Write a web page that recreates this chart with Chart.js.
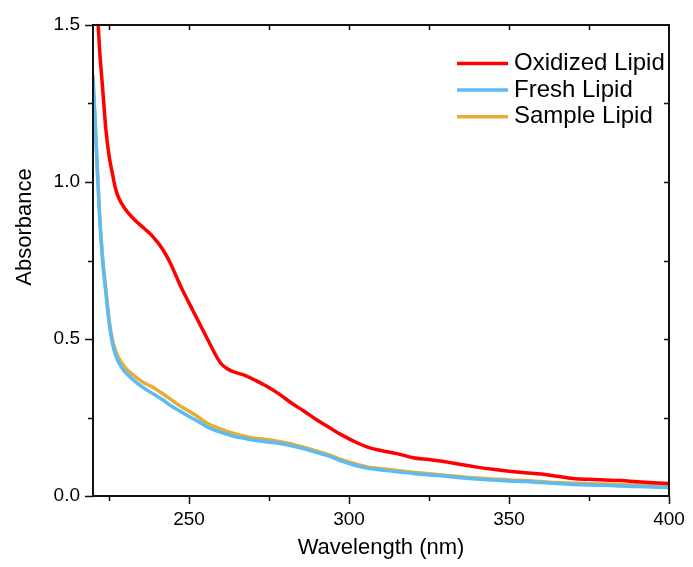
<!DOCTYPE html>
<html>
<head>
<meta charset="utf-8">
<script src="https://cdn.jsdelivr.net/npm/chart.js@4/dist/chart.umd.min.js"></script>
<style>
  html, body { margin: 0; padding: 0; background: #fff; }
  #wrap { width: 693px; height: 567px; }
</style>
</head>
<body>
<div id="wrap"><canvas id="c" width="693" height="567"></canvas></div>
<script>
const wavelength = [220,221,222,223,224,225,226,227,228,230,232,234,236,238,240,242,244,246,248,250,252,254,256,258,260,262,264,266,268,270,274,278,282,286,290,294,298,302,306,310,315,320,325,330,335,340,345,350,355,360,365,370,375,380,385,390,395,400];
const oxidized = [1.80,1.62,1.43,1.30,1.17,1.085,1.03,0.98,0.95,0.915,0.89,0.87,0.852,0.834,0.81,0.782,0.745,0.70,0.655,0.615,0.575,0.535,0.495,0.455,0.422,0.405,0.395,0.389,0.382,0.372,0.351,0.326,0.296,0.27,0.242,0.217,0.193,0.172,0.155,0.145,0.135,0.122,0.116,0.109,0.10,0.092,0.085,0.079,0.074,0.07,0.063,0.056,0.053,0.051,0.049,0.045,0.042,0.04];
const fresh = [1.34,1.12,0.90,0.75,0.65,0.555,0.49,0.45,0.425,0.395,0.375,0.358,0.343,0.33,0.318,0.305,0.29,0.277,0.265,0.253,0.242,0.23,0.218,0.21,0.203,0.196,0.19,0.186,0.182,0.178,0.173,0.168,0.16,0.15,0.138,0.126,0.11,0.097,0.088,0.083,0.077,0.072,0.067,0.063,0.058,0.054,0.051,0.048,0.046,0.043,0.04,0.037,0.035,0.034,0.032,0.03,0.029,0.027];
const sample = [1.32,1.12,0.91,0.76,0.66,0.565,0.50,0.465,0.44,0.41,0.39,0.374,0.36,0.35,0.338,0.324,0.31,0.295,0.282,0.27,0.258,0.243,0.23,0.221,0.213,0.206,0.199,0.194,0.189,0.185,0.18,0.174,0.166,0.155,0.143,0.13,0.115,0.102,0.092,0.087,0.081,0.076,0.071,0.066,0.061,0.057,0.054,0.051,0.049,0.046,0.043,0.041,0.039,0.038,0.036,0.035,0.034,0.033];
const seriesNames = ['Oxidized Lipid', 'Fresh Lipid', 'Sample Lipid'];
const seriesColors = ['#FF0000', '#5BBBF2', '#E5AC38'];
const xTickValues = [225,250,275,300,325,350,375,400];
const xTickLabels = {250:'250', 300:'300', 350:'350', 400:'400'};
const yTickValues = [0,0.25,0.5,0.75,1.0,1.25,1.5];
const yTickLabels = {0:'0.0', 0.5:'0.5', 1:'1.0', 1.5:'1.5'};
const xTitle = 'Wavelength (nm)';
const yTitle = 'Absorbance';

const FONT = '"Liberation Sans", Arial, sans-serif';
const toPts = (ys) => ys.map((y, i) => ({x: wavelength[i], y: y}));
const allSeries = [oxidized, fresh, sample];

const framePlugin = {
  id: 'frame',
  afterDraw(chart) {
    const {ctx, chartArea: a, scales: {x, y}} = chart;
    ctx.save();
    ctx.strokeStyle = '#111';
    ctx.lineWidth = 2;
    ctx.strokeRect(a.left, a.top, a.right - a.left, a.bottom - a.top);
    ctx.lineWidth = 1.5;
    ctx.beginPath();
    xTickValues.forEach(v => {
      const px = Math.round(x.getPixelForValue(v)) + 0.5;
      const major = v % 50 === 0;
      ctx.moveTo(px, a.bottom); ctx.lineTo(px, a.bottom + (major ? 8 : 5));
      if (v !== 400) { ctx.moveTo(px, a.top); ctx.lineTo(px, a.top + 5); }
    });
    yTickValues.forEach(v => {
      const py = Math.round(y.getPixelForValue(v)) + 0.5;
      const major = Math.abs(v * 2 - Math.round(v * 2)) < 1e-9;
      ctx.moveTo(a.left, py); ctx.lineTo(a.left - (major ? 8 : 5), py);
      if (v !== 0 && v !== 1.5) { ctx.moveTo(a.right, py); ctx.lineTo(a.right - 5, py); }
    });
    ctx.stroke();
    // legend
    ctx.font = '24px ' + FONT;
    ctx.textBaseline = 'middle';
    ctx.textAlign = 'left';
    seriesNames.forEach((name, i) => {
      const cy = 63.5 + i * 26.6;
      ctx.strokeStyle = seriesColors[i];
      ctx.lineWidth = 3.5;
      ctx.beginPath(); ctx.moveTo(457, cy); ctx.lineTo(508, cy); ctx.stroke();
      ctx.fillStyle = '#000';
      ctx.fillText(name, 514, cy);
    });
    // y title
    ctx.save();
    ctx.translate(25, 227);
    ctx.rotate(-Math.PI / 2);
    ctx.textAlign = 'center';
    ctx.textBaseline = 'middle';
    ctx.font = '22px ' + FONT;
    ctx.fillStyle = '#000';
    ctx.fillText(yTitle, 0, 0);
    ctx.restore();
    ctx.restore();
  }
};

new Chart(document.getElementById('c'), {
  type: 'line',
  data: {
    datasets: allSeries.map((s, i) => ({
      label: seriesNames[i],
      data: toPts(s),
      borderColor: seriesColors[i],
      backgroundColor: seriesColors[i],
      borderWidth: 3.5,
      pointRadius: 0,
      fill: false,
      cubicInterpolationMode: 'monotone'
    }))
  },
  options: {
    responsive: false,
    animation: false,
    layout: { padding: { top: 25, right: 24, left: 0, bottom: 0 } },
    plugins: { legend: { display: false }, tooltip: { enabled: false } },
    scales: {
      x: {
        type: 'linear', min: 220, max: 400,
        afterBuildTicks: s => { s.ticks = xTickValues.map(v => ({value: v})); },
        afterFit: s => { s.height = 71; },
        grid: { display: true, drawOnChartArea: false, drawTicks: true, tickLength: 8, color: 'rgba(0,0,0,0)' },
        border: { display: false },
        ticks: { autoSkip: false, maxRotation: 0, padding: 4, color: '#000', font: { family: FONT, size: 19 },
                 callback: v => xTickLabels[v] || '' },
        title: { display: true, text: xTitle, color: '#000', font: { family: FONT, size: 22 }, padding: { top: 0, bottom: 6 } }
      },
      y: {
        type: 'linear', min: 0, max: 1.5,
        afterBuildTicks: s => { s.ticks = yTickValues.map(v => ({value: v})); },
        afterFit: s => { s.width = 93; },
        grid: { display: true, drawOnChartArea: false, drawTicks: true, tickLength: 8, color: 'rgba(0,0,0,0)' },
        border: { display: false },
        ticks: { autoSkip: false, padding: 5, color: '#000', font: { family: FONT, size: 19 },
                 callback: v => yTickLabels[v] || '' }
      }
    }
  },
  plugins: [framePlugin]
});
</script>
</body>
</html>
